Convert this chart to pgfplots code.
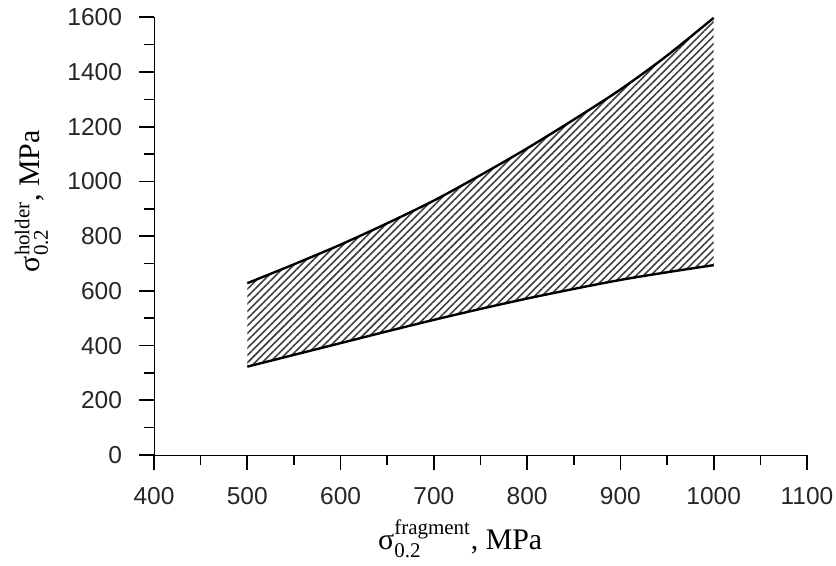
\documentclass[border=0pt]{standalone}
\usepackage{pgfplots}
\pgfplotsset{compat=1.18}
\usepackage{amsmath}
\usepackage{fontspec}
\setmainfont{Liberation Serif}
\newfontfamily\tickfont{Liberation Sans}
\usepgfplotslibrary{fillbetween}
\usetikzlibrary{patterns.meta,calc}
\begin{document}
\begin{tikzpicture}
\begin{axis}[
  scale only axis,
  width=326.5bp, height=218.85bp,
  xmin=400, xmax=1100, ymin=0, ymax=1600,
  axis lines=left,
  x axis line style={-}, y axis line style={-},
  every axis line/.append style={line width=0.8bp},
  xtick={400,500,...,1100}, ytick={0,200,...,1600},
  minor x tick num=1, minor y tick num=1,
  tick align=outside,
  major tick length=7.5bp, minor tick length=5bp,
  every tick/.style={black, line width=0.8bp},
  /pgf/number format/assume math mode=true,
  /pgf/number format/set thousands separator={},
  ticklabel style={font=\tickfont\fontsize{12.3}{12.3}\selectfont, text=black!85},
  xticklabel style={yshift=-5bp},
  yticklabel style={xshift=-5bp},
  xlabel={$\text{σ}^{\text{fragment}}_{\text{0.2}}$, MPa},
  ylabel={$\text{σ}^{\text{holder}}_{\text{0.2}}$, MPa},
  label style={font=\fontsize{15}{18}\selectfont},
  xlabel style={at={(axis description cs:0.469,-0.192)}, anchor=center},
  ylabel style={at={(axis description cs:-0.1876,0.58)}, anchor=center},
  clip=false,
]
\coordinate (O) at (rel axis cs:0,0);
\addplot[name path=upper, black, line width=1.2bp, smooth] coordinates {
  (500,628) (550,697) (600,769) (650,847) (700,930) (750,1023)
  (800,1121) (850,1226) (900,1336) (950,1460) (1000,1598)};
\addplot[name path=lower, black, line width=1.2bp, smooth] coordinates {
  (500,323) (550,366) (600,409) (650,452) (700,494) (750,534)
  (800,572) (850,607) (900,640) (950,668) (1000,694)};
\addplot[draw=none, pattern={Lines[angle=45, distance=2.6bp, line width=0.8bp]}, pattern color=black!75]
  fill between[of=upper and lower];
\end{axis}
\pgfresetboundingbox
\useasboundingbox ($(O)+(-77bp,-55.5bp)$) rectangle ($(O)+(341bp,227.5bp)$);
\end{tikzpicture}
\end{document}
